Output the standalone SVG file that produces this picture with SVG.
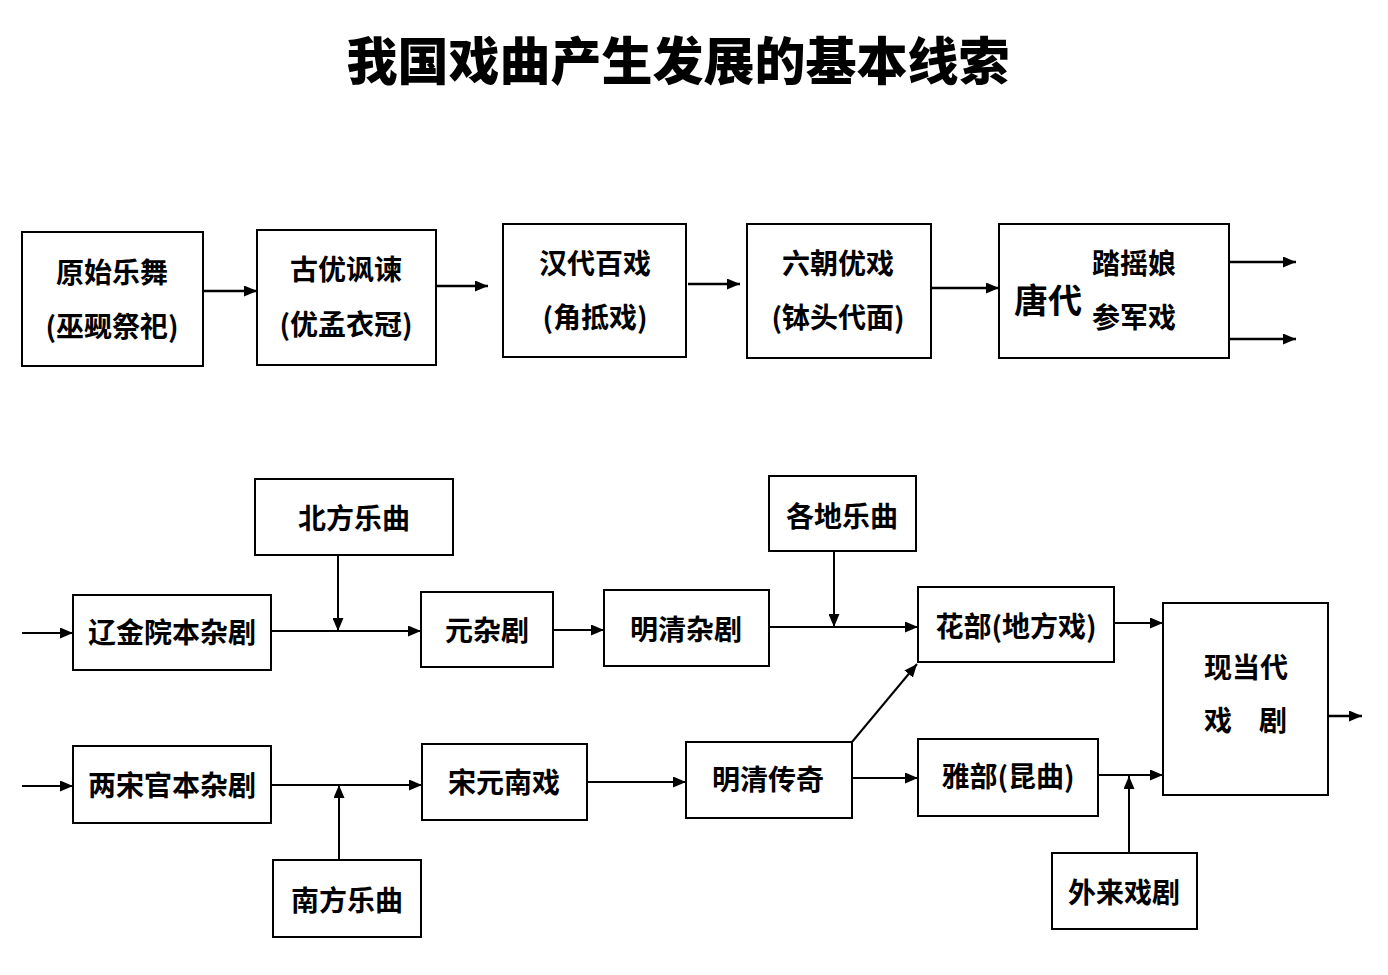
<svg xmlns="http://www.w3.org/2000/svg" width="1388" height="975" viewBox="0 0 1388 975">
<style>
.box{fill:#fff;stroke:#000;stroke-width:2}
.t{font-family:"Noto Sans CJK SC","Noto Sans",sans-serif;font-weight:700;font-size:28px;fill:#000;text-anchor:middle}
.title{font-family:"Noto Sans CJK SC","Noto Sans",sans-serif;font-weight:900;font-size:51px;fill:#000;text-anchor:middle}
.c{fill:none;stroke:#000;stroke-width:2}
.ct{fill:none;stroke:#000;stroke-width:2.6}
</style>
<defs>
<marker id="ah" viewBox="0 0 13 11" refX="13" refY="5.5" markerWidth="13" markerHeight="11" markerUnits="userSpaceOnUse" orient="auto">
<path d="M0,0 L13,5.5 L0,11 Z" fill="#000"/>
</marker>
</defs>
<rect width="1388" height="975" fill="#fff"/>
<text class="title" x="678" y="80">我国戏曲产生发展的基本线索</text>

<g id="n1"><rect class="box" x="22" y="232" width="181" height="134"/><text class="t" x="112" y="283">原始乐舞</text><text class="t" x="112" y="337">(巫觋祭祀)</text></g>
<g id="n2"><rect class="box" x="257" y="230" width="179" height="135"/><text class="t" x="346" y="280">古优讽谏</text><text class="t" x="346" y="335">(优孟衣冠)</text></g>
<g id="n3"><rect class="box" x="503" y="224" width="183" height="133"/><text class="t" x="595" y="274">汉代百戏</text><text class="t" x="595" y="328">(角抵戏)</text></g>
<g id="n4"><rect class="box" x="747" y="224" width="184" height="134"/><text class="t" x="838" y="274">六朝优戏</text><text class="t" x="838" y="328">(钵头代面)</text></g>
<g id="n5"><rect class="box" x="999" y="224" width="230" height="134"/><text class="t" x="1048" y="313" style="font-size:34px">唐代</text><text class="t" x="1134" y="274">踏摇娘</text><text class="t" x="1134" y="328">参军戏</text></g>

<g id="n6"><rect class="box" x="255" y="479" width="198" height="76"/><text class="t" x="354" y="529">北方乐曲</text></g>
<g id="n7"><rect class="box" x="73" y="595" width="198" height="75"/><text class="t" x="172" y="643">辽金院本杂剧</text></g>
<g id="n8"><rect class="box" x="421" y="592" width="132" height="75"/><text class="t" x="487" y="641">元杂剧</text></g>
<g id="n9"><rect class="box" x="604" y="590" width="165" height="76"/><text class="t" x="686" y="640">明清杂剧</text></g>
<g id="n10"><rect class="box" x="769" y="476" width="147" height="75"/><text class="t" x="842" y="527">各地乐曲</text></g>
<g id="n11"><rect class="box" x="918" y="587" width="196" height="75"/><text class="t" x="1016" y="637">花部(地方戏)</text></g>
<g id="n12"><rect class="box" x="1163" y="603" width="165" height="192"/><text class="t" x="1246" y="678">现当代</text><text class="t" x="1218" y="731">戏</text><text class="t" x="1273" y="731">剧</text></g>
<g id="n13"><rect class="box" x="73" y="746" width="198" height="77"/><text class="t" x="172" y="796">两宋官本杂剧</text></g>
<g id="n14"><rect class="box" x="422" y="744" width="165" height="76"/><text class="t" x="504" y="793">宋元南戏</text></g>
<g id="n15"><rect class="box" x="273" y="860" width="148" height="77"/><text class="t" x="347" y="911">南方乐曲</text></g>
<g id="n16"><rect class="box" x="686" y="742" width="166" height="76"/><text class="t" x="768" y="790">明清传奇</text></g>
<g id="n17"><rect class="box" x="918" y="739" width="180" height="77"/><text class="t" x="1008" y="787">雅部(昆曲)</text></g>
<g id="n18"><rect class="box" x="1052" y="853" width="145" height="76"/><text class="t" x="1124" y="903">外来戏剧</text></g>

<g id="connectors">
<line class="ct" x1="203" y1="291" x2="257" y2="291" marker-end="url(#ah)"/>
<line class="ct" x1="436" y1="286" x2="488" y2="286" marker-end="url(#ah)"/>
<line class="ct" x1="688" y1="284" x2="740" y2="284" marker-end="url(#ah)"/>
<line class="ct" x1="931" y1="288" x2="999" y2="288" marker-end="url(#ah)"/>
<line class="ct" x1="1229" y1="262" x2="1296" y2="262" marker-end="url(#ah)"/>
<line class="ct" x1="1229" y1="339" x2="1296" y2="339" marker-end="url(#ah)"/>

<line class="c" x1="22" y1="633" x2="73" y2="633" marker-end="url(#ah)"/>
<line class="c" x1="271" y1="631" x2="421" y2="631" marker-end="url(#ah)"/>
<line class="c" x1="338" y1="555" x2="338" y2="631" marker-end="url(#ah)"/>
<line class="c" x1="553" y1="630" x2="604" y2="630" marker-end="url(#ah)"/>
<line class="c" x1="769" y1="627" x2="918" y2="627" marker-end="url(#ah)"/>
<line class="c" x1="834" y1="551" x2="834" y2="627" marker-end="url(#ah)"/>
<line class="c" x1="1114" y1="623" x2="1163" y2="623" marker-end="url(#ah)"/>

<line class="c" x1="22" y1="786" x2="73" y2="786" marker-end="url(#ah)"/>
<line class="c" x1="271" y1="785" x2="422" y2="785" marker-end="url(#ah)"/>
<line class="c" x1="339" y1="860" x2="339" y2="785" marker-end="url(#ah)"/>
<line class="c" x1="587" y1="782" x2="686" y2="782" marker-end="url(#ah)"/>
<line class="c" x1="852" y1="778" x2="918" y2="778" marker-end="url(#ah)"/>
<line class="c" x1="852" y1="742" x2="917" y2="664" marker-end="url(#ah)"/>
<line class="c" x1="1098" y1="775" x2="1163" y2="775" marker-end="url(#ah)"/>
<line class="c" x1="1129" y1="853" x2="1129" y2="776" marker-end="url(#ah)"/>
<line class="ct" x1="1328" y1="716" x2="1362" y2="716" marker-end="url(#ah)"/>
</g>
</svg>
